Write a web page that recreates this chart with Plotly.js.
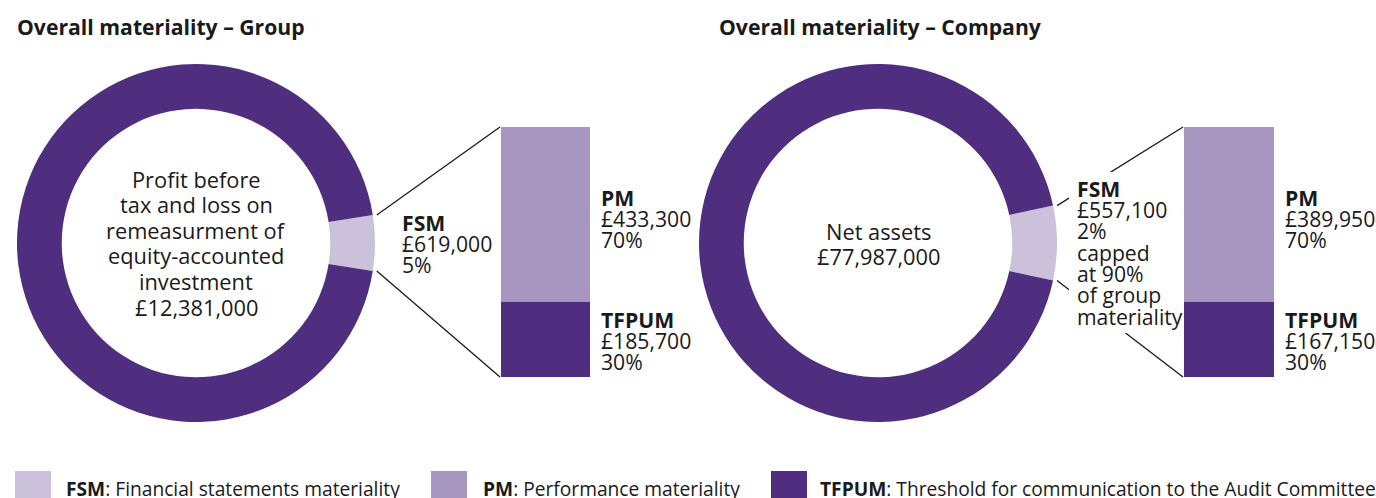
<!DOCTYPE html>
<html>
<head>
<meta charset="utf-8">
<script src="https://cdn.plot.ly/plotly-3.0.1.min.js"></script>
<style>html,body{margin:0;padding:0;background:#fff;}#chart{width:1376px;height:498px;}</style>
</head>
<body>
<div id="chart"></div>
<script>
// ---------------- DATA ----------------
const panelTitles = ['Overall materiality – Group', 'Overall materiality – Company'];
const benchmarkNames = [['Profit before', 'tax and loss on', 'remeasurment of', 'equity-accounted', 'investment'], ['Net assets']];
const benchmarkValues = [12381000, 77987000];
const fsmValues = [619000, 557100];
const fsmPercents = [5, 2];
const fsmNotes = [[], ['capped', 'at 90%', 'of group', 'materiality']];
// share of the ring drawn for the FSM slice
const fsmDrawnShare = [0.05, 0.067];
const pmValues = [433300, 389950];
const pmPercents = [70, 70];
const tfpumValues = [185700, 167150];
const tfpumPercents = [30, 30];
const legendKeys = ['FSM', 'PM', 'TFPUM'];
const legendDescs = ['Financial statements materiality', 'Performance materiality', 'Threshold for communication to the Audit Committee'];

// ---------------- STYLE / LAYOUT ----------------
const W = 1376, H = 498;
const C_DARK = '#4f2d7f', C_MID = '#a696c0', C_LIGHT = '#cbc1da', C_TEXT = '#1a1a1a';
const FONT = '"Open Sans", "Noto Sans", sans-serif';
const fx = x => x / W, fy = y => 1 - y / H;
const money = v => '£' + v.toLocaleString('en-GB');

const donuts = [{cx: 196, cy: 243, R: 179}, {cx: 878, cy: 243, R: 179}];
const bars = [{x0: 501, x1: 590}, {x0: 1184, x1: 1274}];
const barTop = 127, barBot = 377;
const titleX = [15, 717];
const fsmLabelX = [400, 1075], fsmFirstBase = [230, 196];
const sideLabelX = [599, 1283];
const pmFirstBase = 205, tfpumFirstBase = 327;
const sideStep = 21.3;
const centreFirstBase = [187, 239], centreStep = 25.6;
const SIZE_TITLE = 21.2, SIZE_CENTRE = 21.8, SIZE_SIDE = 21.2, SIZE_LEGEND = 19.2;

const data = [], annotations = [], shapes = [];
const layout = {
  width: W, height: H, margin: {l: 0, r: 0, t: 0, b: 0},
  paper_bgcolor: '#fff', plot_bgcolor: 'rgba(0,0,0,0)',
  showlegend: false, barmode: 'stack', bargap: 0,
  font: {family: FONT, color: C_TEXT},
  annotations: annotations, shapes: shapes
};

function addText(text, x, baseY, size, anchor, bold) {
  annotations.push({
    text: bold ? '<b>' + text + '</b>' : text,
    xref: 'paper', yref: 'paper', x: fx(x), y: fy(baseY - size * 0.36),
    xanchor: anchor, yanchor: 'middle', showarrow: false,
    font: {family: FONT, size: size, color: C_TEXT}
  });
}

for (let i = 0; i < 2; i++) {
  const d = donuts[i];
  const share = fsmDrawnShare[i];
  data.push({
    type: 'pie', values: [share, 1 - share], labels: ['FSM', 'Rest'],
    marker: {colors: [C_LIGHT, C_DARK], line: {width: 0}},
    hole: 0.75, sort: false, direction: 'clockwise', rotation: 90 - share * 180,
    textinfo: 'none', hoverinfo: 'skip',
    domain: {x: [fx(d.cx - d.R), fx(d.cx + d.R)], y: [fy(d.cy + d.R), fy(d.cy - d.R)]}
  });
  const xa = i === 0 ? 'x' : 'x2', ya = i === 0 ? 'y' : 'y2';
  data.push({type: 'bar', x: [0], y: [tfpumValues[i]], width: 1, marker: {color: C_DARK, line: {width: 0}}, xaxis: xa, yaxis: ya, hoverinfo: 'skip'});
  data.push({type: 'bar', x: [0], y: [pmValues[i]], width: 1, marker: {color: C_MID, line: {width: 0}}, xaxis: xa, yaxis: ya, hoverinfo: 'skip'});
  const axKey = i === 0 ? '' : '2';
  layout['xaxis' + axKey] = {domain: [fx(bars[i].x0), fx(bars[i].x1)], range: [-0.5, 0.5], visible: false, fixedrange: true, anchor: ya};
  layout['yaxis' + axKey] = {domain: [fy(barBot), fy(barTop)], range: [0, fsmValues[i]], visible: false, fixedrange: true, anchor: xa};

  // connector lines
  const a = share * Math.PI;
  const sx = d.cx + d.R * Math.cos(a) + 4;
  const syTop = d.cy - d.R * Math.sin(a), syBot = d.cy + d.R * Math.sin(a);
  [[syTop, barTop], [syBot, barBot]].forEach(p => {
    shapes.push({type: 'line', xref: 'paper', yref: 'paper', x0: fx(sx), y0: fy(p[0]), x1: fx(bars[i].x0 - 1), y1: fy(p[1]), line: {color: C_TEXT, width: 1.3}, layer: 'above'});
  });

  // title
  addText(panelTitles[i], titleX[i], 34, SIZE_TITLE, 'left', true);
  // centre text
  const centre = benchmarkNames[i].concat([money(benchmarkValues[i])]);
  centre.forEach((t, k) => addText(t, d.cx, centreFirstBase[i] + k * centreStep, SIZE_CENTRE, 'center', false));
  // FSM label
  const fsmLines = ['FSM', money(fsmValues[i]), fsmPercents[i] + '%'].concat(fsmNotes[i]);
  fsmLines.forEach((t, k) => addText(t, fsmLabelX[i], fsmFirstBase[i] + k * sideStep, SIZE_SIDE, 'left', k === 0));
  // PM / TFPUM labels
  ['PM', money(pmValues[i]), pmPercents[i] + '%'].forEach((t, k) => addText(t, sideLabelX[i], pmFirstBase + k * sideStep, SIZE_SIDE, 'left', k === 0));
  ['TFPUM', money(tfpumValues[i]), tfpumPercents[i] + '%'].forEach((t, k) => addText(t, sideLabelX[i], tfpumFirstBase + k * sideStep, SIZE_SIDE, 'left', k === 0));
}
// white mask where the company connector lines pass behind the FSM text
shapes.push({type: 'rect', xref: 'paper', yref: 'paper', x0: fx(1069), x1: fx(1180), y0: fy(333), y1: fy(172), fillcolor: '#fff', line: {width: 0}, layer: 'above'});

// legend
const legendSwatchX = [15, 431, 771], legendTextX = [64, 481, 818];
const legendColors = [C_LIGHT, C_MID, C_DARK];
legendKeys.forEach((k, i) => {
  shapes.push({type: 'rect', xref: 'paper', yref: 'paper', x0: fx(legendSwatchX[i]), x1: fx(legendSwatchX[i] + 36), y0: fy(500), y1: fy(471), fillcolor: legendColors[i], line: {width: 0}, layer: 'above'});
  annotations.push({
    text: '<b>' + k + '</b>: ' + legendDescs[i], xref: 'paper', yref: 'paper',
    x: fx(legendTextX[i]), y: fy(495 - SIZE_LEGEND * 0.36), xanchor: 'left', yanchor: 'middle', showarrow: false,
    font: {family: FONT, size: SIZE_LEGEND, color: C_TEXT}
  });
});

Plotly.newPlot('chart', data, layout, {staticPlot: true, displayModeBar: false});
</script>
</body>
</html>
